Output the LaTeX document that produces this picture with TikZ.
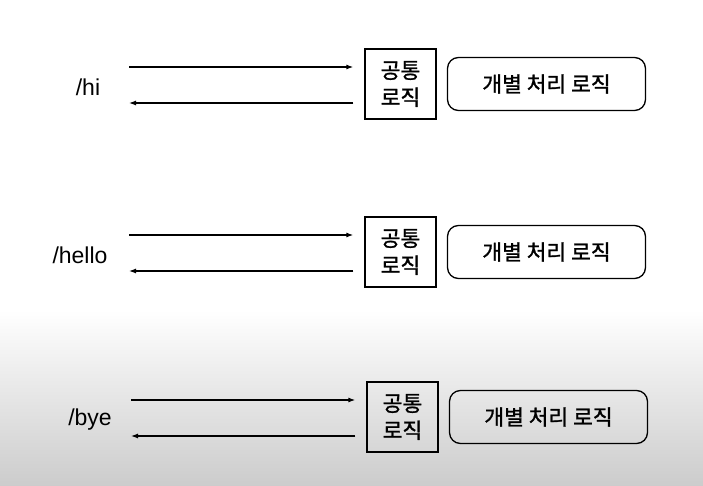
\documentclass[tikz,border=0pt]{standalone}
\usepackage{fontspec}
\setmainfont{Liberation Sans}
\newfontfamily\kr[FakeBold=1.2]{Noto Sans CJK KR}
\usetikzlibrary{arrows.meta}
\tikzset{
  common/.style={draw,line width=1.3pt,minimum width=71pt,minimum height=70pt,inner sep=0pt,align=center,font=\kr\fontsize{21.5}{27}\selectfont},
  own/.style={draw,rounded corners=11pt,line width=1.3pt,minimum width=198pt,minimum height=53pt,inner sep=0pt,font=\kr\fontsize{21.5}{24}\selectfont},
  urlname/.style={inner sep=0pt,font=\fontsize{23}{26}\selectfont},
  flow/.style={line width=1.2pt,-{Latex[length=7pt,width=5pt]}}
}
\begin{document}
\begin{tikzpicture}[x=1pt,y=-1pt]
\useasboundingbox (0,0) rectangle (703,486);
% background
\fill[white] (0,0) rectangle (703,312);
\shade[top color=white,bottom color=black!20] (0,310) rectangle (703,486);
% rows
\foreach \name/\lx/\dx/\y in {hi/88/0/84, hello/80/0/252, bye/90/2/417}{
  \node[urlname] (\name) at (\lx,\y+3) {/\name};
  \node[common] (\name-box) at (400.5+\dx,\y) {공통\\로직};
  \node[own] (\name-own) at (546.5+\dx,\y) {개별 처리 로직};
  \coordinate (\name-in) at (129+\dx,\y-17);
  \coordinate (\name-out) at (129+\dx,\y+19);
  \draw[flow,shorten >=11pt] (\name-in) -- (\name-in -| \name-box.west);
  \draw[flow,shorten <=11pt] (\name-out -| \name-box.west) -- (\name-out);
}
\end{tikzpicture}
\end{document}
